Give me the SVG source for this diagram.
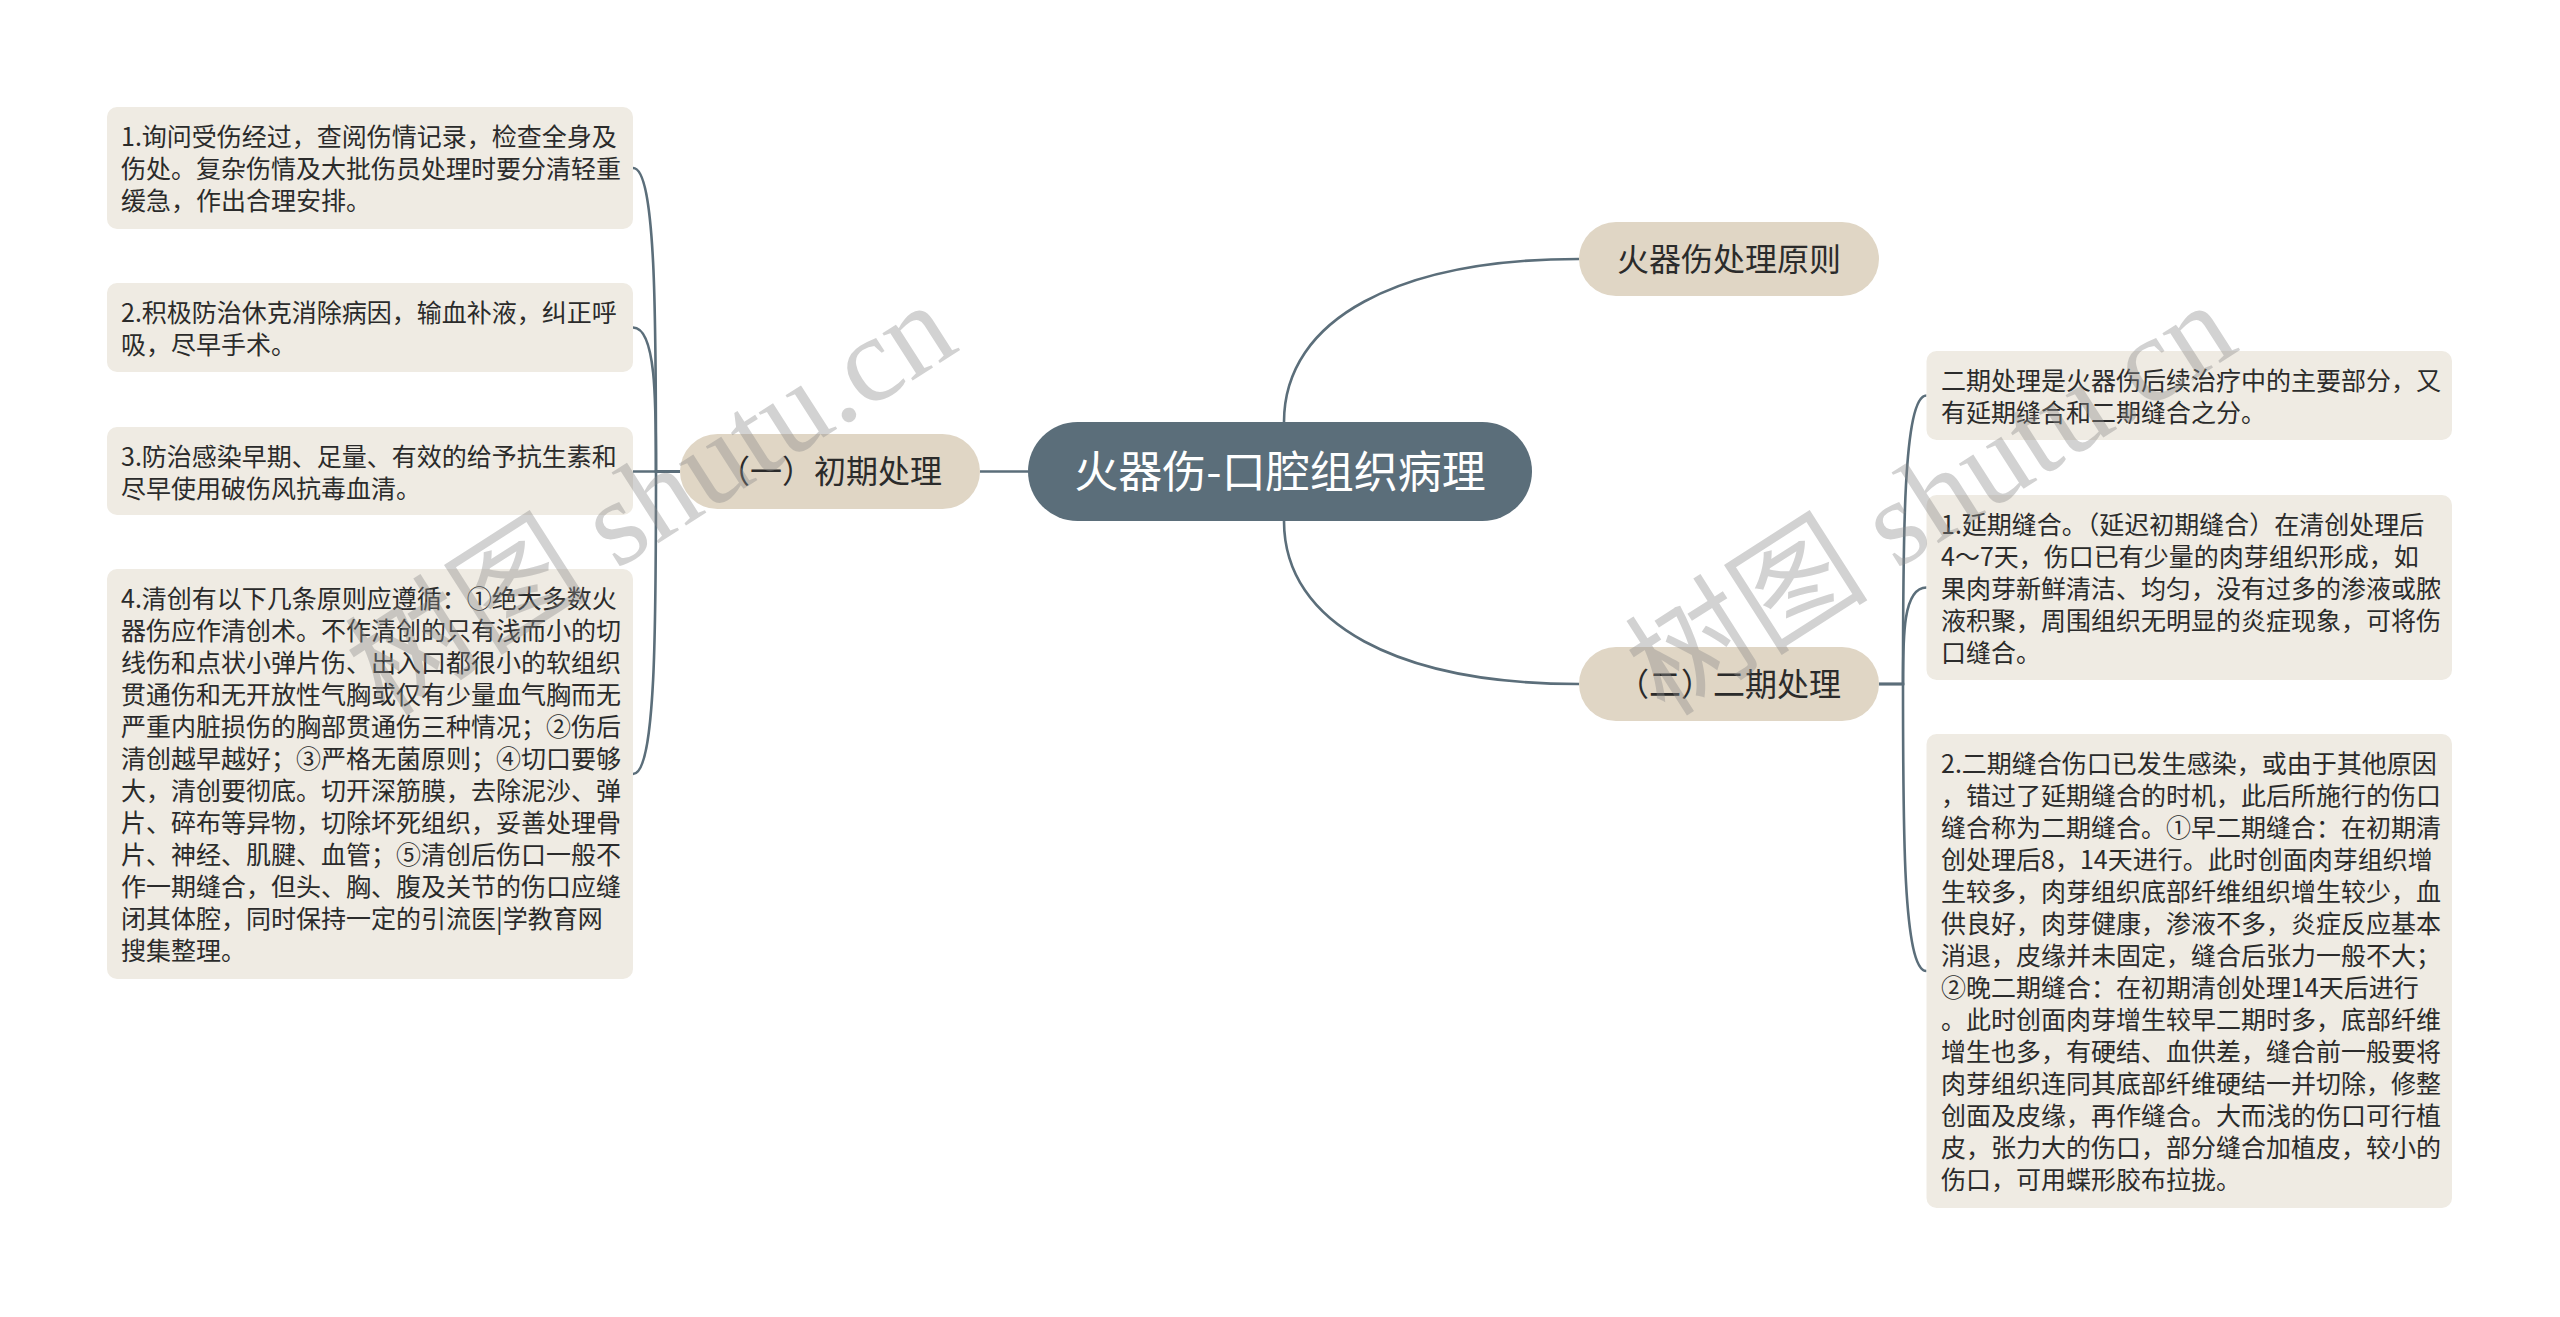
<svg xmlns="http://www.w3.org/2000/svg" width="2560" height="1317" viewBox="0 0 2560 1317">
<style>
.bg{fill:#ffffff}
.conn{fill:none;stroke:#5b6e7a;stroke-width:2.6}
.root{fill:#5b6e7a}
.sub{fill:#e0d6c5}
.leaf{fill:#efebe3}
.t{font-family:"Noto Sans CJK SC","Noto Sans",sans-serif;fill:#2b2b2b}
.lt{font-size:25px}
.st{font-size:32px;text-anchor:middle}
.rt{font-size:44px;text-anchor:middle;fill:#ffffff}
.wm{font-family:"Liberation Serif","Noto Sans CJK SC",serif;font-size:122px;fill:#8a8a8a;opacity:0.38}
</style>
<rect class="bg" x="0" y="0" width="2560" height="1317"/>
<g id="connectors">
<path class="conn" d="M1028 471.5 H980"/>
<path class="conn" d="M680 471.5 H656 C656 320 656 168 633 168"/>
<path class="conn" d="M680 471.5 H656 C656 400 656 327.5 633 327.5"/>
<path class="conn" d="M680 471.5 H633"/>
<path class="conn" d="M680 471.5 H656 C656 623 656 774 633 774"/>
<path class="conn" d="M1284 422 C1284 318 1400 259 1579 259"/>
<path class="conn" d="M1284 521 C1284 625 1400 684 1579 684"/>
<path class="conn" d="M1879 684 H1903 C1903 540 1903 395.5 1926.5 395.5"/>
<path class="conn" d="M1879 684 H1903 C1903 636 1903 587.5 1926.5 587.5"/>
<path class="conn" d="M1879 684 H1903 C1903 828 1903 971 1926.5 971"/>
</g>
<g id="root">
<rect class="root" x="1028" y="422" width="504" height="99" rx="49.5"/>
<text class="t rt" x="1280" y="487.5">火器伤-口腔组织病理</text>
</g>
<g id="n-chuqi">
<rect class="sub" x="680" y="434" width="300" height="75" rx="37.5"/>
<text class="t st" x="830" y="483">（一）初期处理</text>
</g>
<g id="n-yuanze">
<rect class="sub" x="1579" y="222" width="300" height="74" rx="37"/>
<text class="t st" x="1729" y="271">火器伤处理原则</text>
</g>
<g id="n-erqi">
<rect class="sub" x="1579" y="647" width="300" height="74" rx="37"/>
<text class="t st" x="1729" y="696">（二）二期处理</text>
</g>
<g id="l1">
<rect class="leaf" x="107" y="107" width="526" height="122" rx="10"/>
<text class="t lt">
<tspan x="121" y="146">1.询问受伤经过，查阅伤情记录，检查全身及</tspan>
<tspan x="121" y="178">伤处。复杂伤情及大批伤员处理时要分清轻重</tspan>
<tspan x="121" y="210">缓急，作出合理安排。</tspan>
</text>
</g>
<g id="l2">
<rect class="leaf" x="107" y="283" width="526" height="89" rx="10"/>
<text class="t lt">
<tspan x="121" y="322">2.积极防治休克消除病因，输血补液，纠正呼</tspan>
<tspan x="121" y="354">吸，尽早手术。</tspan>
</text>
</g>
<g id="l3">
<rect class="leaf" x="107" y="427" width="526" height="88" rx="10"/>
<text class="t lt">
<tspan x="121" y="466">3.防治感染早期、足量、有效的给予抗生素和</tspan>
<tspan x="121" y="498">尽早使用破伤风抗毒血清。</tspan>
</text>
</g>
<g id="l4">
<rect class="leaf" x="107" y="569" width="526" height="410" rx="10"/>
<text class="t lt">
<tspan x="121" y="608">4.清创有以下几条原则应遵循：①绝大多数火</tspan>
<tspan x="121" y="640">器伤应作清创术。不作清创的只有浅而小的切</tspan>
<tspan x="121" y="672">线伤和点状小弹片伤、出入口都很小的软组织</tspan>
<tspan x="121" y="704">贯通伤和无开放性气胸或仅有少量血气胸而无</tspan>
<tspan x="121" y="736">严重内脏损伤的胸部贯通伤三种情况；②伤后</tspan>
<tspan x="121" y="768">清创越早越好；③严格无菌原则；④切口要够</tspan>
<tspan x="121" y="800">大，清创要彻底。切开深筋膜，去除泥沙、弹</tspan>
<tspan x="121" y="832">片、碎布等异物，切除坏死组织，妥善处理骨</tspan>
<tspan x="121" y="864">片、神经、肌腱、血管；⑤清创后伤口一般不</tspan>
<tspan x="121" y="896">作一期缝合，但头、胸、腹及关节的伤口应缝</tspan>
<tspan x="121" y="928">闭其体腔，同时保持一定的引流医|学教育网</tspan>
<tspan x="121" y="960">搜集整理。</tspan>
</text>
</g>
<g id="r1">
<rect class="leaf" x="1926.5" y="351" width="525.5" height="89" rx="10"/>
<text class="t lt">
<tspan x="1941" y="390">二期处理是火器伤后续治疗中的主要部分，又</tspan>
<tspan x="1941" y="422">有延期缝合和二期缝合之分。</tspan>
</text>
</g>
<g id="r2">
<rect class="leaf" x="1926.5" y="495" width="525.5" height="185" rx="10"/>
<text class="t lt">
<tspan x="1941" y="534">1.延期缝合。（延迟初期缝合）在清创处理后</tspan>
<tspan x="1941" y="566">4～7天，伤口已有少量的肉芽组织形成，如</tspan>
<tspan x="1941" y="598">果肉芽新鲜清洁、均匀，没有过多的渗液或脓</tspan>
<tspan x="1941" y="630">液积聚，周围组织无明显的炎症现象，可将伤</tspan>
<tspan x="1941" y="662">口缝合。</tspan>
</text>
</g>
<g id="r3">
<rect class="leaf" x="1926.5" y="734" width="525.5" height="474" rx="10"/>
<text class="t lt">
<tspan x="1941" y="773">2.二期缝合伤口已发生感染，或由于其他原因</tspan>
<tspan x="1941" y="805">，错过了延期缝合的时机，此后所施行的伤口</tspan>
<tspan x="1941" y="837">缝合称为二期缝合。①早二期缝合：在初期清</tspan>
<tspan x="1941" y="869">创处理后8，14天进行。此时创面肉芽组织增</tspan>
<tspan x="1941" y="901">生较多，肉芽组织底部纤维组织增生较少，血</tspan>
<tspan x="1941" y="933">供良好，肉芽健康，渗液不多，炎症反应基本</tspan>
<tspan x="1941" y="965">消退，皮缘并未固定，缝合后张力一般不大；</tspan>
<tspan x="1941" y="997">②晚二期缝合：在初期清创处理14天后进行</tspan>
<tspan x="1941" y="1029">。此时创面肉芽增生较早二期时多，底部纤维</tspan>
<tspan x="1941" y="1061">增生也多，有硬结、血供差，缝合前一般要将</tspan>
<tspan x="1941" y="1093">肉芽组织连同其底部纤维硬结一并切除，修整</tspan>
<tspan x="1941" y="1125">创面及皮缘，再作缝合。大而浅的伤口可行植</tspan>
<tspan x="1941" y="1157">皮，张力大的伤口，部分缝合加植皮，较小的</tspan>
<tspan x="1941" y="1189">伤口，可用蝶形胶布拉拢。</tspan>
</text>
</g>
<g id="watermarks">
<text class="wm" transform="translate(385 718) rotate(-32.6)">树图 shutu.cn</text>
<text class="wm" transform="translate(1665 718) rotate(-32.6)">树图 shutu.cn</text>
</g>
</svg>
